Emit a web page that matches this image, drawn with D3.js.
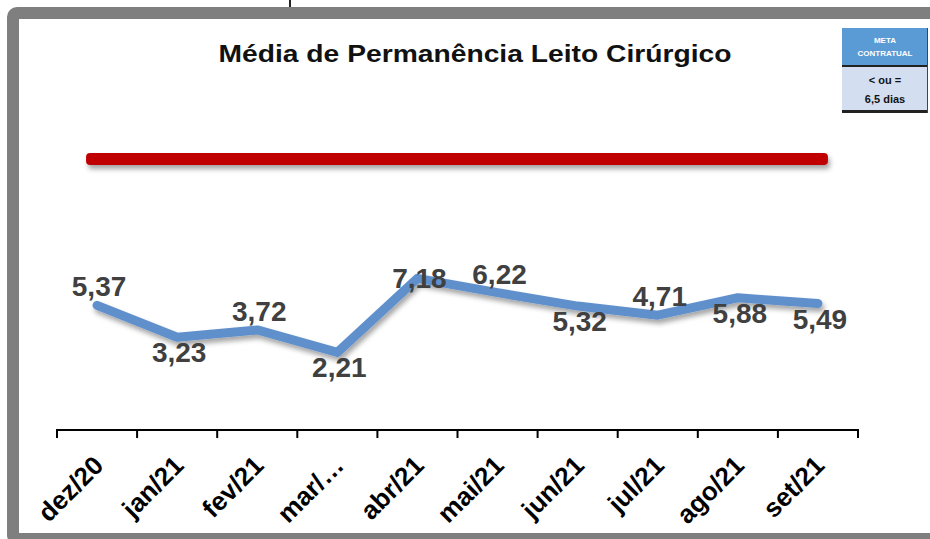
<!DOCTYPE html>
<html>
<head>
<meta charset="utf-8">
<script src="https://cdn.jsdelivr.net/npm/d3@7"></script>
<style>
  body { margin: 0; background: #fff; }
</style>
</head>
<body>
<div class="chart-div"></div>
<script>
//--------------------------- Data

var months = ["dez/20", "jan/21", "fev/21", "mar/21", "abr/21", "mai/21", "jun/21", "jul/21", "ago/21", "set/21"];
var tickLabels = ["dez/20", "jan/21", "fev/21", "mar/…", "abr/21", "mai/21", "jun/21", "jul/21", "ago/21", "set/21"];
var media = [5.37, 3.23, 3.72, 2.21, 7.18, 6.22, 5.32, 4.71, 5.88, 5.49];
var labelSide = ["above", "below", "above", "below", "center", "above", "below", "above", "below", "below"];

var title = "Média de Permanência Leito Cirúrgico";
var metaLines = ["META", "CONTRATUAL"];
var metaValue = ["< ou =", "6,5 dias"];

//--------------------------- SVG definition

var width = 930;
var height = 539;

var svg = d3.select("div.chart-div")
    .append("svg")
    .attr("width", width)
    .attr("height", height)
    .style("display", "block");

var defs = svg.append("defs");

var shadow = defs.append("filter")
    .attr("id", "shadow")
    .attr("x", "-10%").attr("y", "-50%")
    .attr("width", "120%").attr("height", "250%");
shadow.append("feDropShadow")
    .attr("dx", 2).attr("dy", 4)
    .attr("stdDeviation", 2.5)
    .attr("flood-color", "#000")
    .attr("flood-opacity", 0.35);

//--------------------------- Frame

svg.append("rect")
    .attr("x", 13).attr("y", 13)
    .attr("width", 1000).attr("height", 526)
    .attr("rx", 4)
    .attr("fill", "white")
    .attr("stroke", "#7f7f7f")
    .attr("stroke-width", 12);

// bit of cut-off text above the frame
svg.append("rect")
    .attr("x", 289).attr("y", 0)
    .attr("width", 2).attr("height", 7)
    .attr("fill", "#222");

//--------------------------- Scales

var x = d3.scaleBand()
    .domain(months)
    .range([57, 858]);

var y = d3.scaleLinear()
    .domain([-3, 16])
    .range([430, 147]);

var cx = function (d) { return x(d) + x.bandwidth() / 2; };

//--------------------------- Title

svg.append("text")
    .attr("x", 475)
    .attr("y", 62)
    .attr("text-anchor", "middle")
    .attr("font-family", "Liberation Sans, Arial, sans-serif")
    .attr("font-weight", "bold")
    .attr("font-size", 24)
    .attr("textLength", 513)
    .attr("lengthAdjust", "spacingAndGlyphs")
    .style("fill", "#111")
    .text(title);

//--------------------------- Meta box (top right)

var box = svg.append("g").attr("transform", "translate(842,28)");

box.append("rect")
    .attr("width", 86).attr("height", 38)
    .attr("fill", "#5b9bd5");
box.append("rect")
    .attr("y", 38).attr("width", 86).attr("height", 45)
    .attr("fill", "#d3dff1");
box.append("rect")
    .attr("y", 37).attr("width", 86).attr("height", 2)
    .attr("fill", "#222");
box.append("rect")
    .attr("y", 82).attr("width", 86).attr("height", 3)
    .attr("fill", "#222");
box.append("rect")
    .attr("x", 85).attr("width", 1).attr("height", 85)
    .attr("fill", "#444");

box.selectAll("text.meta").data(metaLines).enter()
    .append("text")
    .attr("class", "meta")
    .attr("x", 43)
    .attr("y", function (d, i) { return 15 + i * 13; })
    .attr("text-anchor", "middle")
    .attr("font-family", "Liberation Sans, Arial, sans-serif")
    .attr("font-weight", "bold")
    .attr("font-size", 8)
    .style("fill", "white")
    .text(function (d) { return d; });

box.selectAll("text.val").data(metaValue).enter()
    .append("text")
    .attr("class", "val")
    .attr("x", 43)
    .attr("y", function (d, i) { return 56 + i * 19; })
    .attr("text-anchor", "middle")
    .attr("font-family", "Liberation Sans, Arial, sans-serif")
    .attr("font-weight", "bold")
    .attr("font-size", 11)
    .style("fill", "#111")
    .text(function (d) { return d; });

//--------------------------- Red meta bar

var first = cx(months[0]), last = cx(months[months.length - 1]);

svg.append("rect")
    .attr("x", first - 11)
    .attr("y", 153)
    .attr("width", last - first + 21)
    .attr("height", 12)
    .attr("rx", 4)
    .attr("fill", "#c00000")
    .attr("filter", "url(#shadow)");

//--------------------------- X axis

var axis = svg.append("g");

axis.append("line")
    .attr("x1", x.range()[0]).attr("x2", x.range()[1])
    .attr("y1", 430).attr("y2", 430)
    .attr("stroke", "black")
    .attr("stroke-width", 2);

var tickPos = months.map(function (d) { return x(d); }).concat([x.range()[1]]);

axis.selectAll("line.tick").data(tickPos).enter()
    .append("line")
    .attr("class", "tick")
    .attr("x1", function (d) { return d; })
    .attr("x2", function (d) { return d; })
    .attr("y1", 429).attr("y2", 438)
    .attr("stroke", "black")
    .attr("stroke-width", 2);

axis.selectAll("text").data(months).enter()
    .append("text")
    .attr("transform", function (d) { return "translate(" + (cx(d) + 8) + ",467) rotate(-45)"; })
    .attr("text-anchor", "end")
    .attr("font-family", "Liberation Sans, Arial, sans-serif")
    .attr("font-weight", "bold")
    .attr("font-size", 26)
    .style("fill", "black")
    .text(function (d, i) { return tickLabels[i]; });

//--------------------------- Line

var lineGenerator = d3.line()
    .x(function (d, i) { return cx(months[i]); })
    .y(function (d) { return y(d); });

svg.append("path")
    .datum(media)
    .attr("d", lineGenerator)
    .attr("fill", "none")
    .attr("stroke", "#6190cc")
    .attr("stroke-width", 9)
    .attr("stroke-linejoin", "round")
    .attr("stroke-linecap", "round")
    .attr("filter", "url(#shadow)");

//--------------------------- Data labels

var labelDy = { above: -9, below: 25, center: 10 };

svg.selectAll("text.lbl").data(media).enter()
    .append("text")
    .attr("class", "lbl")
    .attr("x", function (d, i) { return cx(months[i]) + 2; })
    .attr("y", function (d, i) { return y(d) + labelDy[labelSide[i]]; })
    .attr("text-anchor", "middle")
    .attr("font-family", "Liberation Sans, Arial, sans-serif")
    .attr("font-weight", "bold")
    .attr("font-size", 28)
    .style("fill", "#404040")
    .text(function (d) { return d3.format(".2f")(d).replace(".", ","); });
</script>
</body>
</html>
